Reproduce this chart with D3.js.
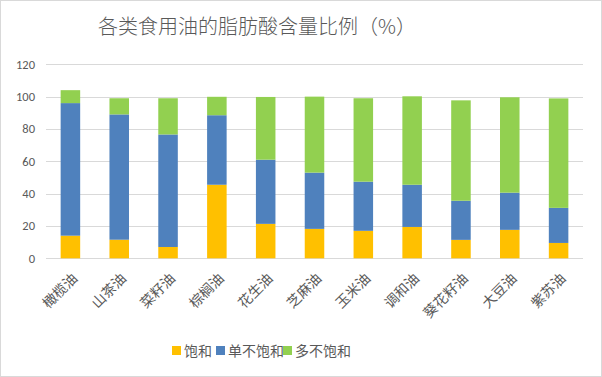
<!DOCTYPE html>
<html>
<head>
<meta charset="utf-8">
<script src="https://cdn.jsdelivr.net/npm/d3@7"></script>
<style>
  body { margin: 0; background: #fff; }
  text { font-family: "Noto Sans CJK SC", "Microsoft YaHei", sans-serif; fill: #595959; }
</style>
</head>
<body>
<script>
//oil names along the x axis
var oils = ["橄榄油", "山茶油", "菜籽油", "棕榈油", "花生油", "芝麻油", "玉米油", "调和油", "葵花籽油", "大豆油", "紫苏油"];

//series values (percent)
var saturated = [14, 11.5, 7, 45.5, 21.3, 18.2, 17, 19.4, 11.4, 17.6, 9.5];
var monoUnsat = [82, 77.5, 69.6, 43, 39.7, 34.8, 30.4, 26.1, 24.2, 23, 21.7];
var polyUnsat = [8, 10, 22.4, 11.4, 38.8, 47, 51.6, 54.7, 62.1, 59, 67.7];

var seriesNames = ["饱和", "单不饱和", "多不饱和"];
var yTicks = [0, 20, 40, 60, 80, 100, 120];

var colors = ["#ffc000", "#4f81bd", "#92d050"];

var width = 602,
    height = 377;

var svg = d3.select("body")
    .append("svg")
    .attr("width", width)
    .attr("height", height);

//outer chart frame
svg.append("rect")
    .attr("x", 0.5)
    .attr("y", 0.5)
    .attr("width", width - 1)
    .attr("height", height - 1)
    .attr("fill", "#fff")
    .attr("stroke", "#d9d9d9");

//title
svg.append("text")
    .attr("x", 257)
    .attr("y", 34)
    .attr("text-anchor", "middle")
    .style("font-size", "20px")
    .style("font-weight", "300")
    .text("各类食用油的脂肪酸含量比例（%）");

//plot area edges
var plotLeft = 46, plotRight = 583, plotTop = 64.3, plotBottom = 258.3;

var x = d3.scaleBand()
    .domain(oils)
    .range([plotLeft, plotRight])
    .paddingInner(0.6)
    .paddingOuter(0.3);

var y = d3.scaleLinear()
    .domain([0, 120])
    .range([plotBottom, plotTop]);

//gridlines
svg.append("g")
    .selectAll("line")
    .data(yTicks)
    .enter()
    .append("line")
    .attr("x1", plotLeft)
    .attr("x2", plotRight)
    .attr("y1", function(d){ return Math.round(y(d)) + 0.5; })
    .attr("y2", function(d){ return Math.round(y(d)) + 0.5; })
    .attr("stroke", "#d9d9d9")
    .attr("stroke-width", 1.2);

//y axis labels
var yAxis = d3.axisLeft(y)
    .tickValues(yTicks)
    .tickSize(0)
    .tickPadding(11);

var yg = svg.append("g")
    .attr("transform", "translate(" + plotLeft + ",0)")
    .call(yAxis);
yg.select(".domain").remove();
yg.selectAll("text")
    .style("font-size", "12.5px")
    .style("font-family", "Calibri, 'Liberation Sans', sans-serif")
    .attr("fill", "#595959");

//stack the three series
var rows = oils.map(function(name, i){
    return { oil: name, s0: saturated[i], s1: monoUnsat[i], s2: polyUnsat[i] };
});
var stack = d3.stack().keys(["s0", "s1", "s2"]);
var layers = stack(rows);

svg.append("g")
    .selectAll("g")
    .data(layers)
    .enter()
    .append("g")
    .attr("fill", function(d, i){ return colors[i]; })
    .selectAll("rect")
    .data(function(d){ return d; })
    .enter()
    .append("rect")
    .attr("x", function(d){ return x(d.data.oil); })
    .attr("width", x.bandwidth())
    .attr("y", function(d){ return y(d[1]); })
    .attr("height", function(d){ return y(d[0]) - y(d[1]); });

//rotated category labels
var xAxis = d3.axisBottom(x).tickSize(0).tickPadding(0);
var xg = svg.append("g")
    .attr("transform", "translate(0," + plotBottom + ")")
    .call(xAxis);
xg.select(".domain").remove();
xg.selectAll("text")
    .style("font-size", "14px")
    .style("font-family", "'Noto Sans CJK SC', sans-serif")
    .attr("fill", "#595959")
    .attr("text-anchor", "end")
    .attr("dy", null)
    .attr("y", 0)
    .attr("transform", "translate(8,21) rotate(-45)");

//legend
var legendX = [172, 216, 283];
var legend = svg.append("g");
seriesNames.forEach(function(name, i){
    legend.append("rect")
        .attr("x", legendX[i])
        .attr("y", 346)
        .attr("width", 9)
        .attr("height", 9)
        .attr("fill", colors[i]);
    legend.append("text")
        .attr("x", legendX[i] + 12)
        .attr("y", 356)
        .style("font-size", "14px")
        .text(name);
});
</script>
</body>
</html>
